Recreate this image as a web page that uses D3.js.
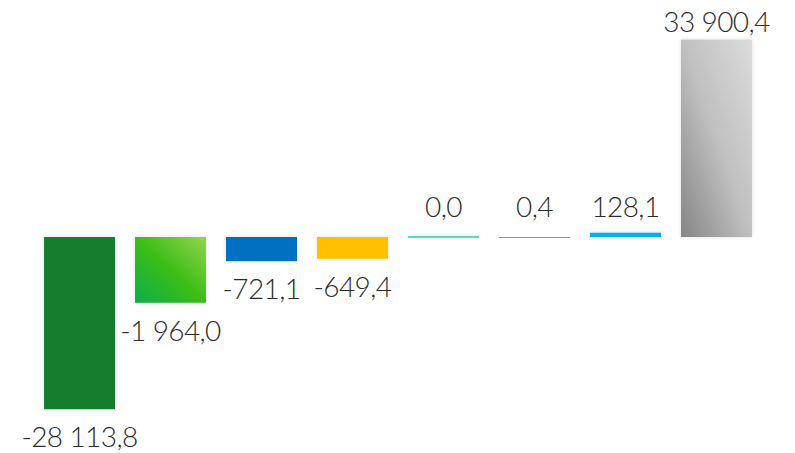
<!DOCTYPE html>
<html>
<head>
<meta charset="utf-8">
<script src="https://cdn.jsdelivr.net/npm/d3@7"></script>
<style>
  html, body { margin: 0; padding: 0; background: #fff; }
  svg { display: block; }
  .lbl { font-family: Lato, "Open Sans", sans-serif; font-weight: 300; font-size: 28px; letter-spacing: -0.6px; fill: #2b2b2b; }
</style>
</head>
<body>
<div id="chart"></div>
<script>
// values
var ids = ["a", "b", "c", "d", "e", "f", "g", "h"];
var values = [-28113.8, -1964.0, -721.1, -649.4, 0.0, 0.4, 128.1, 33900.4];
var fills = ["#177d2e", "url(#gGreen)", "#0070c0", "#ffc000", "#55dfc0", "#e87722", "#00b0f0", "url(#gGray)"];

var width = 795, height = 453;

var svg = d3.select("#chart").append("svg")
  .attr("width", width)
  .attr("height", height);

var defs = svg.append("defs");

function grad(id, stops) {
  var g = defs.append("linearGradient")
    .attr("id", id)
    .attr("x1", 0).attr("y1", 1)
    .attr("x2", 1).attr("y2", 0);
  stops.forEach(function(s) {
    g.append("stop").attr("offset", s[0]).attr("stop-color", s[1]);
  });
}
grad("gGreen", [[0, "#0dae4c"], [0.5, "#3cbe16"], [1, "#95d350"]]);
grad("gGray", [[0, "#858585"], [0.5, "#c0c0c0"], [1, "#dcdcdc"]]);

// soft shadow round each bar
var f = defs.append("filter").attr("id", "shadow")
  .attr("x", "-20%").attr("y", "-20%").attr("width", "140%").attr("height", "140%");
f.append("feDropShadow")
  .attr("dx", 0).attr("dy", 0)
  .attr("stdDeviation", 2)
  .attr("flood-color", "#000")
  .attr("flood-opacity", 0.12);

var x = d3.scaleBand()
  .domain(ids)
  .range([34, 762])
  .paddingInner(0.22)
  .paddingOuter(0.11);

// broken scale: linear up to 2000, compressed beyond
var y = d3.scaleLinear()
  .domain([-36000, -2000, 0, 2000, 36000])
  .range([441, 304, 237, 170, 31]);

var fmt = d3.formatLocale({
  decimal: ",",
  thousands: "\u00a0",
  grouping: [3],
  currency: ["", ""],
  minus: "-"
}).format(",.1f");

var data = ids.map(function(id, i) {
  return { id: id, value: values[i], fill: fills[i] };
});

var y0 = y(0);

function tiny(d) { return Math.abs(y(d.value) - y0) < 2; }

svg.append("g")
  .selectAll("rect")
  .data(data)
  .enter()
  .append("rect")
  .attr("x", d => x(d.id))
  .attr("width", x.bandwidth())
  .attr("y", function(d) {
    if (tiny(d)) return d.value === 0 ? y0 - 1 : y0;
    return Math.min(y(d.value), y0);
  })
  .attr("height", function(d) {
    if (tiny(d)) return d.value === 0 ? 2 : 1;
    return Math.abs(y(d.value) - y0);
  })
  .attr("fill", d => d.fill)
  .attr("shape-rendering", d => tiny(d) ? "crispEdges" : null)
  .attr("filter", d => tiny(d) ? null : "url(#shadow)");

svg.append("g")
  .selectAll("text")
  .data(data)
  .enter()
  .append("text")
  .attr("class", "lbl")
  .attr("text-anchor", "middle")
  .attr("x", d => x(d.id) + x.bandwidth() / 2)
  .attr("y", function(d) {
    if (d.value < 0) return y(d.value) + 38;
    return Math.min(y(d.value) - 8, y0 - 20);
  })
  .text(d => fmt(d.value));
</script>
</body>
</html>
